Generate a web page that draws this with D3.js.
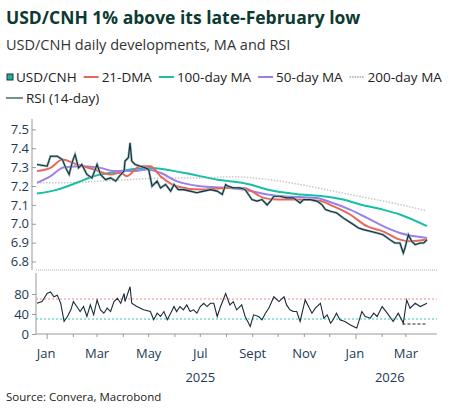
<!DOCTYPE html><html><head><meta charset="utf-8"><script src="https://cdn.jsdelivr.net/npm/d3@7"></script>
<style>body{margin:0;background:#fff}text{font-family:"Segoe UI","Open Sans",sans-serif}</style></head><body><svg id="c" width="453" height="417"></svg><script>
// days offset from 2025-01-01
const priceDays=[-12,0,4,12,18,22,26,30,33,37,41,47,53,59,63,69,75,81,87,91,92,96,98,100,104,110,116,120,124,130,134,140,146,150,155,161,169,177,185,193,201,207,211,214,220,228,234,238,242,248,254,260,264,268,275,283,291,299,303,311,319,325,329,335,342,350,356,362,368,374,382,390,397,405,411,417,421,423,427,431,435,441,445,449];
const priceVals=[7.314,7.305,7.358,7.358,7.34,7.296,7.261,7.332,7.367,7.296,7.314,7.261,7.243,7.314,7.261,7.234,7.243,7.226,7.261,7.279,7.332,7.35,7.429,7.332,7.314,7.305,7.296,7.288,7.199,7.226,7.19,7.208,7.173,7.208,7.181,7.181,7.173,7.164,7.173,7.181,7.173,7.155,7.208,7.199,7.19,7.19,7.181,7.155,7.128,7.12,7.128,7.10,7.12,7.146,7.146,7.137,7.137,7.11,7.128,7.128,7.12,7.10,7.075,7.066,7.058,7.031,7.013,6.996,6.978,6.969,6.96,6.951,6.942,6.916,6.898,6.898,6.845,6.872,6.942,6.907,6.889,6.898,6.898,6.916];
const dma21Days=[-12,4,18,35,55,75,87,94,110,122,134,153,181,213,232,256,272,299,323,338,358,378,397,417,429,449];
const dma21Vals=[7.279,7.296,7.34,7.314,7.288,7.261,7.27,7.252,7.305,7.305,7.252,7.199,7.181,7.19,7.19,7.137,7.128,7.128,7.12,7.093,7.049,6.987,6.96,6.916,6.907,6.916];
const ma50Days=[-12,4,20,43,63,79,102,118,134,153,181,213,232,260,279,318,337,358,378,397,417,449];
const ma50Vals=[7.217,7.252,7.3,7.305,7.296,7.279,7.279,7.288,7.27,7.226,7.199,7.19,7.181,7.155,7.146,7.137,7.111,7.075,7.031,6.987,6.951,6.925];
const ma100Days=[-12,12,35,55,75,98,122,161,200,240,260,299,326,350,370,397,417,449];
const ma100Vals=[7.16,7.181,7.217,7.252,7.27,7.288,7.296,7.27,7.235,7.208,7.181,7.155,7.146,7.128,7.102,7.075,7.049,6.987];
const ma200Days=[-12,24,63,102,142,181,220,260,299,338,378,417,447];
const ma200Vals=[7.217,7.217,7.226,7.235,7.243,7.243,7.249,7.235,7.208,7.173,7.137,7.102,7.07];
const rsiDays=[-12,-6,0,4,8,12,16,20,24,28,31,35,39,43,47,51,55,59,63,67,71,75,79,83,87,91,92,98,100,106,114,122,126,130,134,138,142,146,150,153,157,161,165,169,173,177,181,185,189,193,197,201,205,211,216,220,224,230,234,238,240,244,250,254,258,262,268,274,280,283,287,291,295,299,305,309,313,317,323,327,331,335,338,342,346,352,358,362,366,372,376,382,386,390,396,402,409,415,421,425,429,435,441,449];
const rsiVals=[61.5,64.8,81,84.3,74.4,77.7,61.5,25.1,35,48.3,64.8,54.9,44.9,54.9,35,58.2,38.3,68.1,48.3,41.6,51.6,44.9,64.8,71.4,61.5,81,64.8,94.5,61.5,54.9,48.3,44.9,28.4,41.6,35,44.9,28.4,41.6,54.9,44.9,54.9,48.3,58.2,44.9,48.3,41.6,54.9,61.5,54.9,61.5,61.5,35,54.9,81,58.2,64.8,48.3,58.2,35,21.8,15.2,38.3,35,28.4,41.6,51.6,74.4,64.8,74.4,58.2,48.3,44.9,44.9,25.1,68.1,54.9,41.6,51.6,61.5,31.7,38.3,21.8,28.4,41.6,28.4,25.1,18.5,15.2,11.9,44.9,35,31.7,41.6,35,54.9,41.6,25.1,41.6,21.8,68.1,51.6,61.5,54.9,61.5];
const priceTicks=[6.8,6.9,7.0,7.1,7.2,7.3,7.4,7.5];
const rsiTicks=[0,40,80];
const monthLabels=["Jan","Mar","May","Jul","Sept","Nov","Jan","Mar"];
const legendItems=[["USD/CNH","#1f3340","box"],["21-DMA","#e8665a","line"],["100-day MA","#1bbfa5","line"],["50-day MA","#9b7fe8","line"],["200-day MA","#bbb","dot"]];

const base=new Date(2025,0,1);
const dt=n=>d3.timeDay.offset(base,n);
const svg=d3.select("#c");
const x=d3.scaleTime().domain([dt(-12),dt(449)]).range([37,427]);
const y=d3.scaleLinear().domain([6.755,7.555]).range([270,119]);
const yr=d3.scaleLinear().domain([0,122]).range([334,273]);

svg.append("text").attr("x",6).attr("y",24).attr("font-size",17.5).attr("font-weight",700).attr("fill","#0c3a30").text("USD/CNH 1% above its late-February low");
svg.append("text").attr("x",6).attr("y",50).attr("font-size",14.5).attr("fill","#333").text("USD/CNH daily developments, MA and RSI");

// legend
let lx=6;
const lg=svg.append("g");
legendItems.forEach(([t,c,k])=>{
  if(k==="box") lg.append("rect").attr("x",lx+1).attr("y",74).attr("width",6).attr("height",6).attr("fill","#20b0a0").attr("stroke","#1f3340");
  else lg.append("line").attr("x1",lx).attr("x2",lx+15).attr("y1",77).attr("y2",77).attr("stroke",c).attr("stroke-width",2).attr("stroke-dasharray",k==="dot"?"1.5,1":null);
  const tx=lg.append("text").attr("x",lx+(k==="box"?10:18)).attr("y",82).attr("font-size",13.5).attr("fill","#222").text(t);
  lx+= (k==="box"?10:18)+tx.node().getComputedTextLength()+7;
});
lg.append("line").attr("x1",6).attr("x2",23).attr("y1",98).attr("y2",98).attr("stroke","#4a6a6a").attr("stroke-width",1.5);
lg.append("text").attr("x",26).attr("y",103).attr("font-size",13.5).attr("fill","#222").text("RSI (14-day)");

// axes
const ya=svg.append("g").attr("transform","translate(36,0)").call(d3.axisLeft(y).tickValues(priceTicks).tickFormat(d3.format(".1f")).tickSize(4));
const yra=svg.append("g").attr("transform","translate(36,0)").call(d3.axisLeft(yr).tickValues(rsiTicks).tickSize(4));
[ya,yra].forEach(a=>{a.select(".domain").attr("stroke","#999");a.selectAll(".tick line").attr("stroke","#999");a.selectAll("text").attr("font-size",13).attr("fill","#1d3a55").attr("font-family","Segoe UI, Open Sans, sans-serif");});
ya.select(".domain").attr("d","M-4,119V270");
yra.select(".domain").attr("d","M0,273V334");
svg.append("line").attr("x1",36).attr("x2",437).attr("y1",270).attr("y2",270).attr("stroke","#aaa").attr("stroke-dasharray","1,1");
svg.append("line").attr("x1",36).attr("x2",437).attr("y1",334).attr("y2",334).attr("stroke","#999");
const months=d3.timeMonth.range(dt(-12),dt(450));
svg.append("g").selectAll("line").data(months).join("line").attr("x1",d=>x(d)).attr("x2",d=>x(d)).attr("y1",334).attr("y2",d=>d.getMonth()===0?339:337).attr("stroke","#999");
const labMonths=months.filter(d=>d.getMonth()%2===0);
svg.append("g").selectAll("text").data(labMonths).join("text").attr("x",d=>x(d)+(d.getMonth()===0?-1:0)).attr("y",358).attr("text-anchor","middle").attr("font-size",13).attr("fill","#1d3a55").text((d,i)=>monthLabels[i]);
svg.append("text").attr("x",x(new Date(2025,6,1))).attr("y",382).attr("text-anchor","middle").attr("font-size",13).attr("fill","#1d3a55").text("2025");
svg.append("text").attr("x",x(new Date(2026,1,10))).attr("y",382).attr("text-anchor","middle").attr("font-size",13).attr("fill","#1d3a55").text("2026");
svg.append("text").attr("x",6).attr("y",401).attr("font-size",11.5).attr("fill","#222").text("Source: Convera, Macrobond");

const line=(ds,vs,ys,curve)=>d3.line().x((d,i)=>x(dt(ds[i]))).y((d,i)=>ys(vs[i])).curve(curve)(vs);
const P=(ds,vs,ys,c,w,dash,curve)=>svg.append("path").attr("d",line(ds,vs,ys,curve)).attr("fill","none").attr("stroke",c).attr("stroke-width",w).attr("stroke-dasharray",dash);
P(ma200Days,ma200Vals,y,"#c8c8c8",1.5,"1.5,1.5",d3.curveMonotoneX);
P(ma100Days,ma100Vals,y,"#17bfa3",2,null,d3.curveMonotoneX);
P(ma50Days,ma50Vals,y,"#9a80ea",2,null,d3.curveMonotoneX);
P(dma21Days,dma21Vals,y,"#e8665a",2,null,d3.curveMonotoneX);
P(priceDays,priceVals,y,"#8fb8b8",2.4,null,d3.curveLinear);
P(priceDays,priceVals,y,"#1c2a3a",1.1,null,d3.curveLinear);

svg.append("line").attr("x1",36).attr("x2",437).attr("y1",yr(70)).attr("y2",yr(70)).attr("stroke","#f08a80").attr("stroke-dasharray","2,2");
svg.append("line").attr("x1",36).attr("x2",437).attr("y1",yr(30)).attr("y2",yr(30)).attr("stroke","#30c8b8").attr("stroke-dasharray","2,2");
svg.append("line").attr("x1",x(dt(420))).attr("x2",x(dt(449))).attr("y1",yr(20)).attr("y2",yr(20)).attr("stroke","#222").attr("stroke-dasharray","3,2");
P(rsiDays,rsiVals,yr,"#1c2a3a",1.1,null,d3.curveLinear);
</script></body></html>
